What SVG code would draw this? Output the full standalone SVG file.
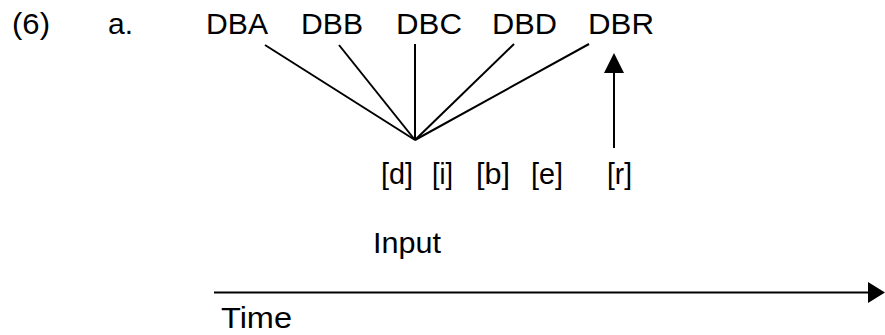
<svg xmlns="http://www.w3.org/2000/svg" width="885" height="335" viewBox="0 0 885 335">
<style>
text{font-family:"Liberation Sans",Arial,sans-serif;font-size:29.5px;fill:#000}
.ln{stroke:#000;stroke-width:2;fill:none}
</style>
<rect width="885" height="335" fill="#fff"/>
<g id="labels">
<text x="12" y="34" textLength="38" lengthAdjust="spacingAndGlyphs">(6)</text>
<text x="108" y="34" textLength="25" lengthAdjust="spacingAndGlyphs">a.</text>
</g>
<g id="DBA"><text x="206" y="34" textLength="62" lengthAdjust="spacingAndGlyphs">DBA</text></g>
<g id="DBB"><text x="301" y="34" textLength="62" lengthAdjust="spacingAndGlyphs">DBB</text></g>
<g id="DBC"><text x="396" y="34" textLength="66" lengthAdjust="spacingAndGlyphs">DBC</text></g>
<g id="DBD"><text x="492" y="34" textLength="65" lengthAdjust="spacingAndGlyphs">DBD</text></g>
<g id="DBR"><text x="588" y="34" textLength="66" lengthAdjust="spacingAndGlyphs">DBR</text></g>
<g id="seg-d"><text x="381" y="184" textLength="32" lengthAdjust="spacingAndGlyphs">[d]</text></g>
<g id="seg-i"><text x="432" y="184" textLength="21" lengthAdjust="spacingAndGlyphs">[i]</text></g>
<g id="seg-b"><text x="476" y="184" textLength="34" lengthAdjust="spacingAndGlyphs">[b]</text></g>
<g id="seg-e"><text x="531" y="184" textLength="32" lengthAdjust="spacingAndGlyphs">[e]</text></g>
<g id="seg-r"><text x="607" y="184" textLength="25" lengthAdjust="spacingAndGlyphs">[r]</text></g>
<g id="input"><text x="373" y="253" textLength="68" lengthAdjust="spacingAndGlyphs">Input</text></g>
<g id="time"><text x="221" y="328" textLength="71" lengthAdjust="spacingAndGlyphs">Time</text></g>
<g id="connectors">
<line class="ln" x1="265" y1="45" x2="415" y2="140"/>
<line class="ln" x1="339" y1="45" x2="415" y2="140"/>
<line class="ln" x1="415" y1="44" x2="415" y2="140"/>
<line class="ln" x1="514" y1="44" x2="415" y2="140"/>
<line class="ln" x1="589" y1="44" x2="415" y2="140"/>
<line class="ln" x1="614" y1="148" x2="614" y2="72"/>
<polygon points="614,53 624,73 604,73" fill="#000"/>
<line class="ln" x1="214" y1="292.5" x2="869" y2="292.5"/>
<polygon points="885,292.5 868,282 868,303" fill="#000"/>
</g>
</svg>
